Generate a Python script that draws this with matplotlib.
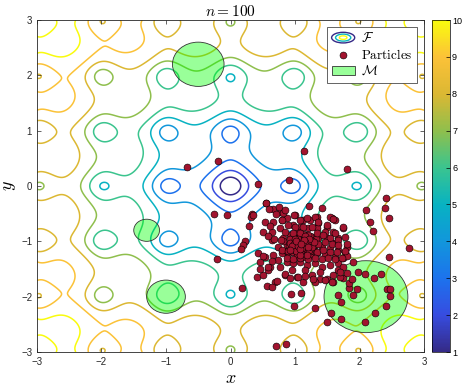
import numpy as np
import matplotlib
matplotlib.use("Agg")
import matplotlib.pyplot as plt
from matplotlib.colors import LinearSegmentedColormap
from matplotlib.patches import Circle, Ellipse, Rectangle
from matplotlib.legend_handler import HandlerBase

plt.rcParams['mathtext.fontset'] = 'cm'
plt.rcParams['font.family'] = ['Liberation Sans', 'DejaVu Sans']

# contour levels and colour range of the objective
levels = [1, 2, 3, 4, 5, 6, 7, 8, 9, 10]

# feasible set M: circle centres and radii
circle_x = [-0.5, -1.3, -1.0, 2.1]
circle_y = [2.2, -0.8, -2.0, -2.0]
circle_r = [0.4, 0.2, 0.3, 0.65]

# particle positions
part_x = [
    -0.67, -0.19, 0.43, 0.91, 1.14, 1.80, 2.41, -0.26, -0.05, 0.55,
    0.34, 0.31, 0.28, 0.22, 0.20, 0.16, -0.21, 0.18, 0.71, 0.86,
    0.94, 1.09, 0.98, 1.31, 2.10, 2.17, 2.21, 2.40, 2.45, 2.76,
    2.45, 1.90, 1.98, 2.09, 2.22, 2.33, 2.42, 2.47, 2.47, 2.41,
    2.24, 2.08, 1.72, 1.49, 1.56, 1.72, 1.66, 1.84, 1.90, 1.96,
    1.83, 1.88, 1.59, 1.75, 1.38, 1.49,
    0.545, 0.664, 0.767, 1.222, 1.413, 1.568, 1.62, 1.749, 0.354, 0.535,
    0.664, 0.793, 0.87, 0.999, 1.129, 1.232, 1.335, 1.361, 1.49, 0.509,
    0.638, 0.767, 0.974, 1.077, 1.206, 1.335, 1.465, 1.594, 1.671, 1.801,
    0.638, 0.819, 0.922, 1.025, 1.155, 1.258, 1.361, 1.49, 1.594, 0.741,
    0.87, 0.974, 1.077, 1.181, 1.31, 1.413, 1.542, 1.671, 1.775, 0.431,
    0.535, 0.664, 0.793, 0.896, 1.025, 1.129, 1.232, 1.335, 1.465, 1.62,
    1.749, 0.457, 0.612, 0.741, 0.87, 0.974, 1.077, 1.181, 1.31, 1.413,
    1.542, 1.671, 0.405, 0.509, 0.586, 0.767, 0.845, 0.948, 1.025, 1.155,
    1.258, 1.387, 1.465, 1.594, 1.671, 1.697, 1.801, 1.129, 1.31, 0.69,
    1.568,
    1.00, 1.05, 1.10, 1.12, 1.15, 1.08, 1.02, 1.18, 1.06, 1.13,
    1.20, 0.98, 1.04, 1.14, 1.22, 0.95, 1.09, 1.17, 1.25, 0.92,
    1.01, 1.26, 0.97, 1.10, 1.19, 1.28, 0.90, 1.12, 1.05, 1.23,
    0.88, 1.16, 1.03, 1.30, 1.32,
    0.56, 0.65, 0.72, 0.46, 0.51, 0.64, 0.58, 0.84, 0.92, 1.04,
    1.15, 1.28, 1.80, 1.75, 1.70,
    0.984, 1.077, 1.18, 1.31, 1.36, 1.542, 1.594, 1.49, 1.749, 1.62,
    0.819, 0.793, 0.896, 0.999, 1.129, 1.258, 0.845, 0.974, 1.077, 1.206,
    1.335, 1.439, 1.542, 1.671, 1.775, 0.819, 0.922, 1.025, 1.155, 1.258,
    1.361, 1.465, 1.568, 1.671, 1.80, 0.793, 0.896, 0.999, 1.103, 1.232,
    1.335, 1.439, 1.542, 1.645, 1.775, 0.87, 0.974, 1.077, 1.206, 1.31,
    1.413, 1.516, 1.62, 1.723,
    1.06, 1.11, 1.16, 1.09, 1.03, 1.14, 1.21, 1.07, 0.99, 1.13,
    1.18, 1.04, 1.24, 1.10, 0.96, 1.01, 1.19, 1.27, 1.08, 0.93,
    1.15, 1.00, 1.29, 1.22,
    1.08, 1.12, 1.05, 1.16, 1.11, 1.02, 1.20, 1.07, 1.14, 1.09,
    0.60, 0.70, 0.62, 0.75, 0.68, 0.85, 0.58, 0.78,
]
part_y = [
    0.34, 0.45, 0.04, 0.10, 0.63, 0.31, -0.21, -0.50, -0.53, -0.31,
    -0.51, -0.56, -0.72, -1.00, -1.06, -1.13, -1.32, -1.85, -2.89, -2.85,
    -1.96, -1.93, -2.16, -2.20, -0.43, -0.65, -0.81, -0.40, -0.58, -1.12,
    -1.29, -1.37, -1.56, -1.59, -1.67, -1.59, -1.86, -1.86, -1.99, -2.17,
    -2.29, -2.46, -2.41, -2.46, -2.29, -2.10, -1.97, -1.85, -1.97, -1.86,
    -1.76, -1.68, -1.74, -1.67, -1.68, -1.68,
    -0.31, -0.416, -0.464, -0.362, -0.404, -0.573, -0.615, -0.765, -0.524, -0.645,
    -0.645, -0.615, -0.585, -0.524, -0.615, -0.615, -0.555, -0.675, -0.735, -0.826,
    -0.826, -0.765, -0.705, -0.735, -0.765, -0.765, -0.826, -0.826, -0.946, -1.097,
    -0.976, -0.946, -0.886, -0.916, -0.886, -0.916, -0.946, -0.946, -1.036, -1.097,
    -1.066, -1.066, -1.097, -1.066, -1.066, -1.097, -1.127, -1.157, -1.187, -1.217,
    -1.277, -1.247, -1.217, -1.217, -1.187, -1.217, -1.247, -1.217, -1.247, -1.277,
    -1.307, -1.368, -1.458, -1.337, -1.368, -1.398, -1.368, -1.428, -1.398, -1.458,
    -1.428, -1.398, -1.639, -1.609, -1.518, -1.458, -1.609, -1.518, -1.639, -1.518,
    -1.609, -1.548, -1.699, -1.609, -1.518, -1.639, -1.578, -1.729, -1.729, -1.74,
    -1.74,
    -1.00, -1.02, -1.05, -1.10, -1.00, -1.12, -1.08, -1.12, -0.96, -0.98,
    -1.03, -1.13, -1.16, -1.17, -1.08, -1.02, -0.92, -0.94, -1.00, -0.96,
    -0.90, -1.14, -1.20, -1.22, -1.20, -1.05, -1.08, -0.86, -0.84, -0.90,
    -1.18, -1.28, -1.26, -1.18, -0.96,
    -1.80, -1.82, -1.72, -1.50, -1.26, -1.35, -1.47, -1.59, -1.67, -1.65,
    -1.63, -1.68, -1.26, -1.47, -1.56,
    -0.524, -0.614, -0.584, -0.554, -0.645, -0.554, -0.602, -0.705, -0.747, -0.855,
    -0.494, -0.614, -0.705, -0.735, -0.735, -0.735, -0.825, -0.855, -0.855, -0.886,
    -0.855, -0.886, -0.946, -0.976, -0.916, -1.00, -1.03, -1.00, -1.03, -1.00,
    -1.04, -1.02, -1.05, -1.07, -1.04, -1.16, -1.18, -1.16, -1.19, -1.17,
    -1.19, -1.16, -1.20, -1.19, -1.17, -1.30, -1.32, -1.30, -1.32, -1.30,
    -1.32, -1.30, -1.32, -1.30,
    -1.06, -1.01, -1.06, -1.15, -1.11, -1.13, -1.15, -0.99, -1.05, -1.04,
    -0.99, -0.95, -1.07, -1.18, -1.09, -1.18, -1.24, -1.10, -1.25, -1.15,
    -0.91, -0.95, -1.01, -0.95,
    -1.03, -1.08, -1.09, -1.02, -1.12, -1.00, -1.10, -1.14, -0.97, -1.04,
    -0.42, -0.50, -0.72, -0.38, -0.95, -0.44, -0.90, -0.98,
]

# parula-like colour map
parula = LinearSegmentedColormap.from_list("parula", [
    (0.000, (0.208, 0.166, 0.529)),
    (0.111, (0.215, 0.300, 0.880)),
    (0.222, (0.110, 0.450, 0.930)),
    (0.333, (0.070, 0.590, 0.860)),
    (0.444, (0.030, 0.700, 0.760)),
    (0.556, (0.230, 0.770, 0.560)),
    (0.667, (0.560, 0.750, 0.300)),
    (0.778, (0.860, 0.720, 0.200)),
    (0.889, (0.985, 0.760, 0.220)),
    (1.000, (0.976, 0.983, 0.054)),
])


def ackley(x, y):
    return (-20 * np.exp(-0.2 * np.sqrt(0.5 * (x**2 + y**2)))
            - np.exp(0.5 * (np.cos(2 * np.pi * x) + np.cos(2 * np.pi * y)))
            + np.e + 20)


class ContourIcon:
    pass


class ContourIconHandler(HandlerBase):
    def create_artists(self, legend, orig_handle, xdescent, ydescent,
                       width, height, fontsize, trans):
        cx = width / 2 - xdescent
        cy = height / 2 - ydescent
        out = []
        for frac, c in [(1.0, 0.0), (0.66, 0.45), (0.33, 1.0)]:
            e = Ellipse((cx, cy), width * frac, height * 1.1 * frac, fill=False,
                        edgecolor=parula(c), lw=1.0, transform=trans)
            out.append(e)
        return out


g = np.linspace(-3, 3, 401)
X, Y = np.meshgrid(g, g)
Z = ackley(X, Y)

fig = plt.figure(figsize=(4.63, 3.90), dpi=100)
ax = fig.add_axes([0.0799, 0.0974, 0.8359, 0.8513])
cax = fig.add_axes([0.933, 0.0974, 0.039, 0.8513])

cs = ax.contour(X, Y, Z, levels=levels, cmap=parula, vmin=1, vmax=10,
                linewidths=1.1, zorder=1)

for cxi, cyi, ri in zip(circle_x, circle_y, circle_r):
    ax.add_patch(Circle((cxi, cyi), ri, facecolor=(0.0, 1.0, 0.0, 0.4),
                        edgecolor=(0.2, 0.2, 0.2), lw=0.6, zorder=2))

ax.scatter(part_x, part_y, s=25, color=(0.635, 0.078, 0.184),
           edgecolors='k', linewidths=0.4, zorder=3)

ax.set_xlim(-3, 3)
ax.set_ylim(-3, 3)
ax.set_xticks(range(-3, 4))
ax.set_yticks(range(-3, 4))
ax.tick_params(direction='in', top=True, right=True, labelsize=7,
               length=3, width=0.5, colors=(0.15, 0.15, 0.15))
for sp in ax.spines.values():
    sp.set_linewidth(0.6)
    sp.set_color((0.15, 0.15, 0.15))
ax.set_xlabel(r'$x$', fontsize=13, labelpad=2)
ax.set_ylabel(r'$y$', fontsize=13, labelpad=2, rotation=90)
ax.set_title(r'$n = 100$', fontsize=11, pad=3)

sm = plt.cm.ScalarMappable(cmap=parula, norm=plt.Normalize(1, 10))
cb = fig.colorbar(sm, cax=cax, ticks=levels)
cb.outline.set_linewidth(0.5)
cax.tick_params(direction='in', labelsize=6.5, length=3, width=0.5, pad=1.5)

green = Rectangle((0, 0), 1, 1, facecolor=(0.0, 1.0, 0.0, 0.4),
                  edgecolor=(0.2, 0.2, 0.2), lw=0.6)
dot = ax.scatter([], [], s=25, color=(0.635, 0.078, 0.184),
                 edgecolors='k', linewidths=0.4)
leg = ax.legend([ContourIcon(), dot, green],
                [r'$\mathcal{F}$', r'$\mathrm{Particles}$', r'$\mathcal{M}$'],
                handler_map={ContourIcon: ContourIconHandler()},
                loc='upper right', fontsize=9.5, handlelength=1.75,
                handleheight=0.75, labelspacing=0.2, borderpad=0.35,
                handletextpad=0.5, fancybox=False, framealpha=1,
                edgecolor=(0.15, 0.15, 0.15), borderaxespad=0.5)
leg.get_frame().set_linewidth(0.5)

fig.savefig("out.png", dpi=100)
